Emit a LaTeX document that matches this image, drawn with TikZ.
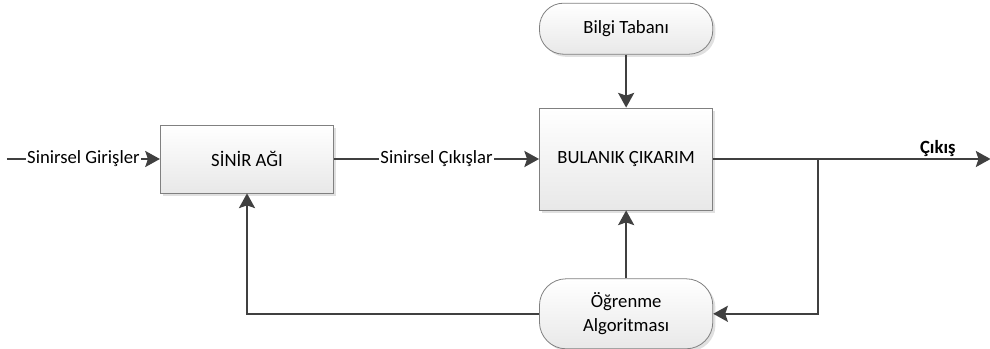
\documentclass[tikz,border=0pt]{standalone}
\usepackage{fontspec}
\setmainfont{Carlito}
\usetikzlibrary{arrows.meta, positioning, shadows}

\begin{document}
\begin{tikzpicture}[
    node distance=39.75pt and 153.75pt,
    box/.style={draw=black!50, line width=0.6pt, top color=white, bottom color=black!9, align=center,
        inner sep=0pt, minimum width=130pt, font=\fontsize{14}{18}\selectfont,
        drop shadow={shadow xshift=2pt, shadow yshift=-2pt, fill=black!12, opacity=1}},
    term/.style={box, rounded corners=18pt},
    lbl/.style={fill=white, inner sep=1pt, font=\fontsize{14}{17}\selectfont},
    arr/.style={-{Stealth[length=11pt, width=12pt, inset=2pt]}, line width=1.7pt, draw=black!75}
]
\useasboundingbox (0,0) rectangle (742.5pt,-261.75pt);

\node[box, minimum height=51pt] (sinir) at (185.25pt,-119.25pt) {SİNİR AĞI};
\node[box, minimum height=76.5pt, right=of sinir] (bulanik) {BULANIK ÇIKARIM};
\node[term, minimum height=38.25pt, above=of bulanik] (bilgi) {Bilgi Tabanı};
\node[term, minimum height=52.5pt, below=51pt of bulanik, rounded corners=20pt] (ogrenme) {Öğrenme\\Algoritması};

\coordinate[left=114.75pt of sinir.west] (in);
\coordinate[right=208pt of bulanik.east] (out);
\coordinate[right=78.75pt of bulanik.east] (split);

\draw[arr] (in) -- node[lbl] {Sinirsel Girişler} (sinir);
\draw[arr] (sinir) -- node[lbl] {Sinirsel Çıkışlar} (bulanik);
\draw[arr] (bilgi) -- (bulanik);
\draw[arr] (ogrenme) -- (bulanik);
\draw[arr] (bulanik) -- node[pos=0.81, above, lbl, fill=none, font=\fontsize{14}{17}\selectfont\bfseries] {Çıkış} (out);
\draw[arr] (split) |- (ogrenme);
\draw[arr] (ogrenme) -| (sinir);
\end{tikzpicture}
\end{document}
